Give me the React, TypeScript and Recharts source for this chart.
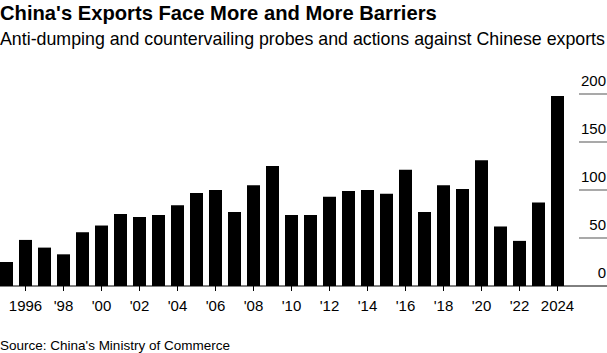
import { BarChart, Bar, XAxis, YAxis } from "recharts";

const YEARS = [
  1995, 1996, 1997, 1998, 1999, 2000, 2001, 2002, 2003, 2004, 2005, 2006, 2007, 2008, 2009,
  2010, 2011, 2012, 2013, 2014, 2015, 2016, 2017, 2018, 2019, 2020, 2021, 2022, 2023, 2024,
];

// probes + actions per year
const CASES = [
  25, 48, 40, 33, 56, 63, 75, 72, 74, 84, 97, 100, 77, 105, 125,
  74, 74, 93, 99, 100, 96, 121, 77, 105, 101, 131, 62, 47, 87, 198,
];

const Y_TICKS = [0, 50, 100, 150, 200];

const data = YEARS.map((year, i) => ({ year, cases: CASES[i] }));

const FONT = '"Liberation Sans", Arial, Helvetica, sans-serif';
const CHART_W = 610;
const CHART_H = 353;

function yearLabel(year: number) {
  if (year === 1996 || year === 2024) return String(year);
  return "'" + String(year).slice(2);
}

function XTick({ x, y, payload }: any) {
  const year = Number(payload.value);
  if (year % 2 !== 0) return null;
  return (
    <g>
      <line x1={x} x2={x} y1={y} y2={y + 5} stroke="#000" strokeWidth={1} />
      <text x={x} y={y + 25} textAnchor="middle" fontSize={15} fill="#000" fontFamily={FONT}>
        {yearLabel(year)}
      </text>
    </g>
  );
}

// right-hand axis: short grey rule under each label, full-width black rule at 0
function YTick({ y, payload }: any) {
  const v = Number(payload.value);
  return (
    <g>
      {v === 0 ? (
        <line x1={0} x2={CHART_W} y1={y} y2={y} stroke="#000" strokeWidth={1} />
      ) : (
        <line x1={CHART_W - 28} x2={CHART_W} y1={y} y2={y} stroke="#8c8c8c" strokeWidth={1.5} />
      )}
      <text x={CHART_W - 1} y={y - 8} textAnchor="end" fontSize={15} fill="#000" fontFamily={FONT}>
        {v}
      </text>
    </g>
  );
}

export default function App() {
  return (
    <div
      style={{
        position: "relative",
        width: 607,
        height: 353,
        overflow: "hidden",
        background: "#fff",
        fontFamily: FONT,
        color: "#000",
      }}
    >
      <style>{"body{margin:0}"}</style>
      <div style={{ position: "absolute", left: 0, top: 3, fontSize: 20.2, lineHeight: "20px", fontWeight: 700, whiteSpace: "nowrap" }}>
        China's Exports Face More and More Barriers
      </div>
      <div style={{ position: "absolute", left: 0, top: 30, fontSize: 17.8, lineHeight: "18px", whiteSpace: "nowrap" }}>
        Anti-dumping and countervailing probes and actions against Chinese exports
      </div>
      <div style={{ position: "absolute", left: -3, top: 0 }}>
        <BarChart width={CHART_W} height={CHART_H} data={data} margin={{ top: 94, right: 0, bottom: 0, left: 0 }}>
          <XAxis
            dataKey="year"
            height={67}
            interval={0}
            tickSize={0}
            tickMargin={0}
            tickLine={false}
            axisLine={false}
            tick={<XTick />}
          />
          <YAxis
            orientation="right"
            width={40}
            domain={[0, 200]}
            ticks={Y_TICKS}
            tickSize={0}
            tickMargin={0}
            tickLine={false}
            axisLine={false}
            tick={<YTick />}
          />
          <Bar dataKey="cases" fill="#000" barSize={13} isAnimationActive={false} />
        </BarChart>
      </div>
      <div style={{ position: "absolute", left: 0, top: 339, fontSize: 13.5, lineHeight: "14px", whiteSpace: "nowrap" }}>
        Source: China's Ministry of Commerce
      </div>
    </div>
  );
}
